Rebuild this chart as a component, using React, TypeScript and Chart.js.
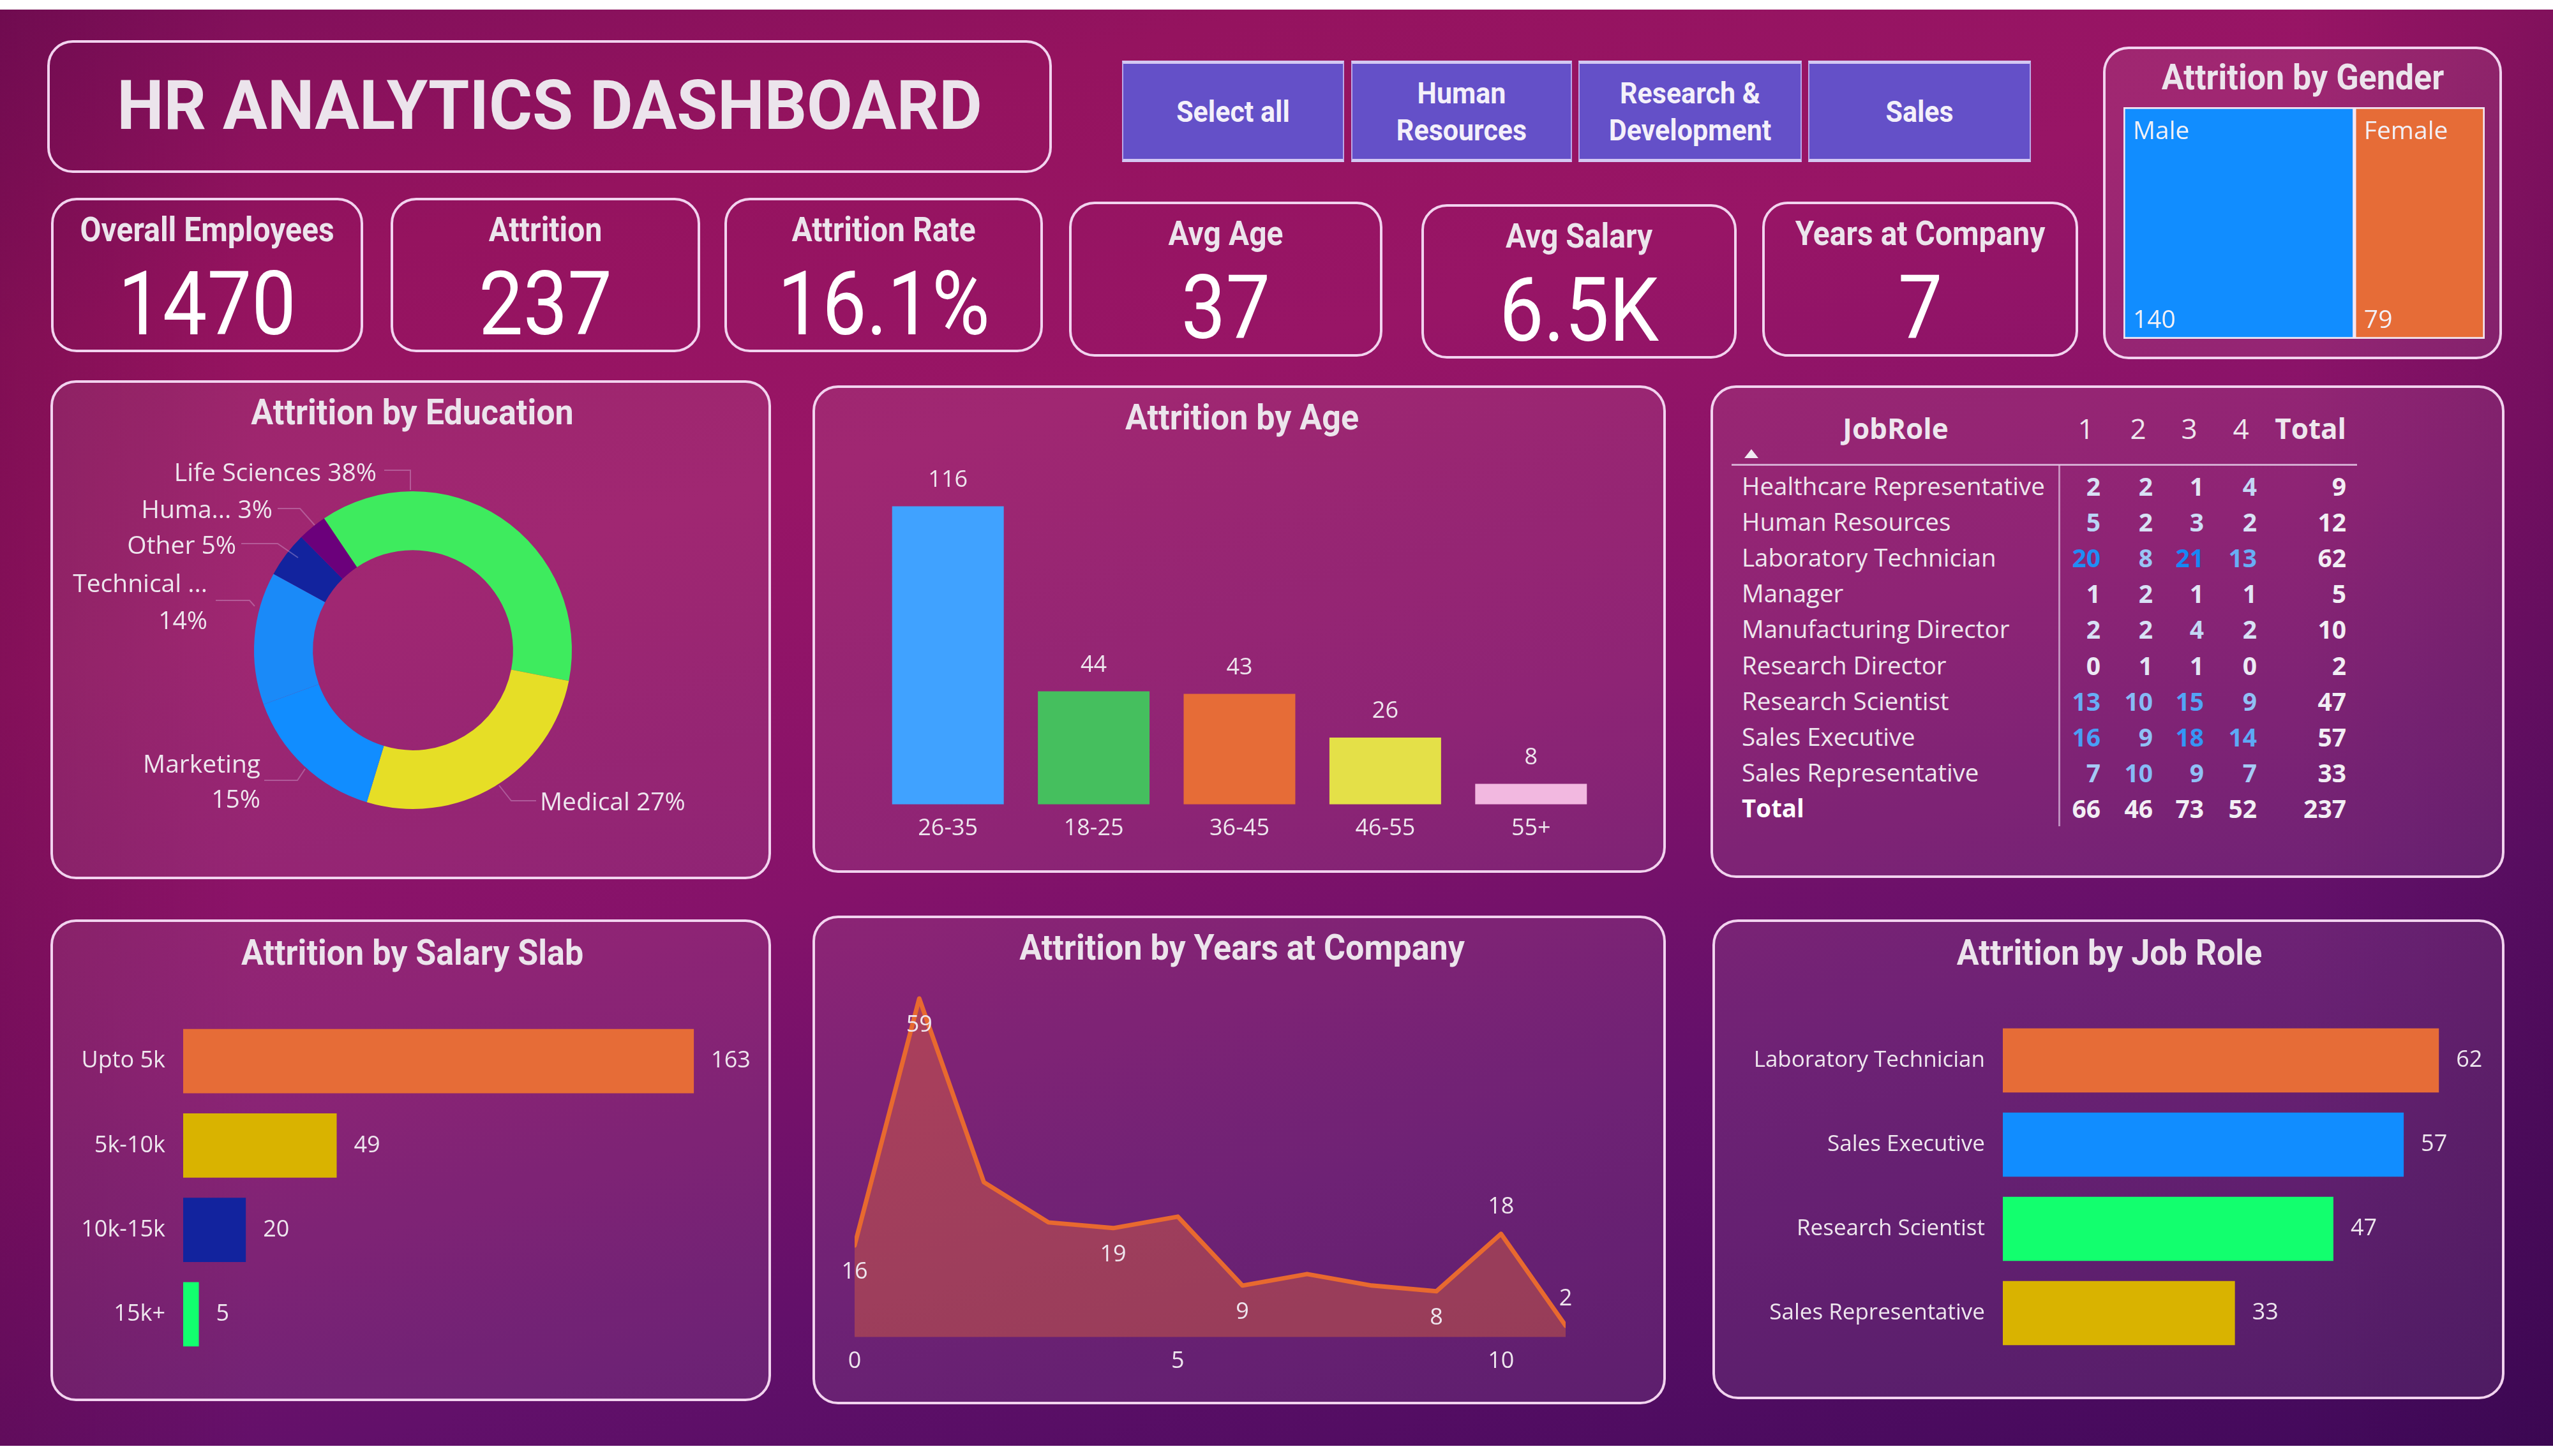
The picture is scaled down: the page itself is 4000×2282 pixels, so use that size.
import React, { useEffect, useRef } from 'react';
import { Chart, registerables } from 'chart.js';

Chart.register(...registerables);

// ---------------- DATA ----------------
const dashboardTitle = 'HR ANALYTICS DASHBOARD';
const kpiLabels = ['Overall Employees', 'Attrition', 'Attrition Rate', 'Avg Age', 'Avg Salary', 'Years at Company'];
const kpiValues = ['1470', '237', '16.1%', '37', '6.5K', '7'];
const departments = ['Select all', 'Human\nResources', 'Research &\nDevelopment', 'Sales'];

const genderLabels = ['Male', 'Female'];
const genderValues = [140, 79];

const educationFields = ['Life Sciences', 'Medical', 'Marketing', 'Technical Degree', 'Other', 'Human Resources'];
const educationValues = [89, 63, 35, 32, 11, 7];

const ageGroups = ['26-35', '18-25', '36-45', '46-55', '55+'];
const ageValues = [116, 44, 43, 26, 8];

const salarySlabs = ['Upto 5k', '5k-10k', '10k-15k', '15k+'];
const salaryValues = [163, 49, 20, 5];

const yearsAtCompany = [0, 1, 2, 3, 4, 5, 6, 7, 8, 9, 10, 11];
const yearsValues = [16, 59, 27, 20, 19, 21, 9, 11, 9, 8, 18, 2];

const jobRoles = ['Laboratory Technician', 'Sales Executive', 'Research Scientist', 'Sales Representative'];
const jobRoleValues = [62, 57, 47, 33];

const matrixRoles = [
  'Healthcare Representative', 'Human Resources', 'Laboratory Technician', 'Manager',
  'Manufacturing Director', 'Research Director', 'Research Scientist', 'Sales Executive', 'Sales Representative',
];
const matrixColumns = ['1', '2', '3', '4'];
const matrixValues = [
  [2, 2, 1, 4],
  [5, 2, 3, 2],
  [20, 8, 21, 13],
  [1, 2, 1, 1],
  [2, 2, 4, 2],
  [0, 1, 1, 0],
  [13, 10, 15, 9],
  [16, 9, 18, 14],
  [7, 10, 9, 7],
];

// ---------------- STYLE ----------------
const TXT = '#EEE6EE';
const SEG = 'Open Sans';
const DIN = 'Roboto';
const genderColors = ['#118DFF', '#E66C37'];
const educationColors = ['#3EEB5E', '#E6DE26', '#118DFF', '#1A8AF8', '#12239E', '#6B007B'];
const ageColors = ['#40A2FF', '#45BF5E', '#E66C37', '#E4E048', '#F2B8E0'];
const salaryColors = ['#E66C37', '#D9B300', '#12239E', '#12FF6E'];
const jobColors = ['#E66C37', '#118DFF', '#12FF6E', '#D9B300'];

// ---------------- PLUGINS ----------------
const valueLabels: any = {
  id: 'valueLabels',
  afterDatasetsDraw(chart: any, _a: any, opts: any) {
    if (!opts || !opts.mode) return;
    const ctx = chart.ctx;
    ctx.save();
    ctx.font = opts.font;
    ctx.fillStyle = opts.color;
    ctx.textBaseline = 'middle';
    chart.data.datasets.forEach((ds: any, di: number) => {
      const meta = chart.getDatasetMeta(di);
      meta.data.forEach((el: any, i: number) => {
        const raw = ds.data[i];
        const v = typeof raw === 'object' ? raw.y : raw;
        if (opts.mode === 'right') {
          ctx.textAlign = 'left';
          ctx.fillText(String(v), el.x + opts.gap, el.y);
        } else if (opts.mode === 'top') {
          ctx.textAlign = 'center';
          ctx.fillText(String(v), el.x, el.y - opts.gap);
        } else if (opts.mode === 'points') {
          const p = opts.place[i];
          if (!p) return;
          ctx.textAlign = 'center';
          ctx.fillText(String(v), el.x, el.y + (p === 'above' ? -opts.gap : opts.gap));
        }
      });
    });
    ctx.restore();
  },
};

const treeLabels: any = {
  id: 'treeLabels',
  afterDatasetsDraw(chart: any, _a: any, opts: any) {
    if (!opts || !opts.on) return;
    const ctx = chart.ctx;
    ctx.save();
    ctx.font = opts.font;
    ctx.fillStyle = opts.color;
    ctx.textAlign = 'left';
    ctx.textBaseline = 'middle';
    chart.data.datasets.forEach((ds: any, di: number) => {
      const el: any = chart.getDatasetMeta(di).data[0];
      const left = Math.min(el.x, el.base);
      const top = el.y - el.height / 2;
      const bottom = el.y + el.height / 2;
      ctx.fillText(ds.label, left + 15, top + 39);
      ctx.fillText(String(ds.data[0]), left + 15, bottom - 28);
    });
    ctx.restore();
  },
};

const donutLabels: any = {
  id: 'donutLabels',
  afterDatasetsDraw(chart: any, _a: any, opts: any) {
    if (!opts || !opts.layout) return;
    const arc: any = chart.getDatasetMeta(0).data[0];
    const cx = arc.x, cy = arc.y, k = arc.outerRadius / 249;
    const vals: number[] = chart.data.datasets[0].data;
    const total = vals.reduce((a, b) => a + b, 0);
    const ctx = chart.ctx;
    ctx.save();
    ctx.font = opts.font;
    ctx.fillStyle = opts.color;
    ctx.strokeStyle = opts.lineColor;
    ctx.lineWidth = 2;
    ctx.textBaseline = 'middle';
    opts.layout.forEach((L: any, i: number) => {
      const pct = Math.round((vals[i] / total) * 100) + '%';
      const name = L.short || chart.data.labels[i];
      const lines = L.split ? [name, pct] : [name + ' ' + pct];
      ctx.beginPath();
      L.path.forEach((pt: number[], j: number) => {
        const px = cx + pt[0] * k, py = cy + pt[1] * k;
        if (j === 0) ctx.moveTo(px, py); else ctx.lineTo(px, py);
      });
      ctx.stroke();
      ctx.textAlign = L.align;
      lines.forEach((t: string, j: number) => ctx.fillText(t, cx + L.tx * k, cy + L.ty[j] * k));
    });
    ctx.restore();
  },
};

// ---------------- CHART CONFIGS ----------------
const base = { responsive: false, animation: false, devicePixelRatio: 1 };
const noLegend = { legend: { display: false }, tooltip: { enabled: false } };

function ageConfig(): any {
  return {
    type: 'bar',
    data: { labels: ageGroups, datasets: [{ data: ageValues, backgroundColor: ageColors, barPercentage: 0.766, categoryPercentage: 1 }] },
    options: {
      ...base,
      plugins: { ...noLegend, valueLabels: { mode: 'top', gap: 41, font: `36px "${SEG}"`, color: TXT } },
      scales: {
        x: { grid: { display: false, drawTicks: false }, border: { display: false }, ticks: { color: TXT, font: { family: SEG, size: 36 }, padding: 16 } },
        y: { display: false, min: 0, max: 130 },
      },
    },
    plugins: [valueLabels],
  };
}

function hbarConfig(labels: string[], values: number[], colors: string[], xmax: number, axisW: number, fs: number): any {
  return {
    type: 'bar',
    data: { labels, datasets: [{ data: values, backgroundColor: colors, barPercentage: 0.76, categoryPercentage: 1 }] },
    options: {
      ...base,
      indexAxis: 'y',
      plugins: { ...noLegend, valueLabels: { mode: 'right', gap: 27, font: `36px "${SEG}"`, color: TXT } },
      scales: {
        x: { display: false, min: 0, max: xmax },
        y: {
          grid: { display: false, drawTicks: false }, border: { display: false },
          ticks: { color: TXT, font: { family: SEG, size: fs }, padding: 28 },
          afterFit: (s: any) => { s.width = axisW; s.paddingTop = 0; s.paddingBottom = 0; },
        },
      },
    },
    plugins: [valueLabels],
  };
}

function genderConfig(): any {
  const total = genderValues.reduce((a, b) => a + b, 0);
  return {
    type: 'bar',
    data: {
      labels: ['Gender'],
      datasets: genderLabels.map((g, i) => ({
        label: g, data: [genderValues[i]], backgroundColor: genderColors[i],
        borderColor: '#F3E6F3', borderWidth: 3, borderSkipped: false, barPercentage: 1, categoryPercentage: 1,
      })),
    },
    options: {
      ...base,
      indexAxis: 'y',
      plugins: { ...noLegend, treeLabels: { on: true, font: `39px "${SEG}"`, color: '#F2F0F6' } },
      scales: { x: { display: false, stacked: true, min: 0, max: total }, y: { display: false, stacked: true } },
    },
    plugins: [treeLabels],
  };
}

const eduLayout = [
  { tx: -57, ty: [-276], align: 'right', path: [[-45, -282], [-4, -282], [-4, -251]] },
  { tx: 199, ty: [240], align: 'left', path: [[135, 212], [154, 236], [193, 236]] },
  { split: true, tx: -239, ty: [181, 236], align: 'right', path: [[-233, 204], [-181, 204], [-169, 186]] },
  { short: 'Technical ...', split: true, tx: -322, ty: [-102, -44], align: 'right', path: [[-309, -78], [-256, -78], [-248, -69]] },
  { tx: -277, ty: [-162], align: 'right', path: [[-269, -167], [-212, -167], [-180, -145]] },
  { short: 'Huma...', tx: -220, ty: [-218], align: 'right', path: [[-212, -222], [-177, -222], [-154, -196]] },
];

function educationConfig(): any {
  return {
    type: 'doughnut',
    data: { labels: educationFields, datasets: [{ data: educationValues, backgroundColor: educationColors, borderWidth: 0 }] },
    options: {
      ...base,
      cutout: '63%',
      rotation: -34,
      layout: { padding: { left: 319, right: 312, top: 70, bottom: 102 } },
      plugins: { ...noLegend, donutLabels: { layout: eduLayout, font: `39px "${SEG}"`, color: TXT, lineColor: 'rgba(220,190,225,0.35)' } },
    },
    plugins: [donutLabels],
  };
}

function yearsConfig(): any {
  return {
    type: 'line',
    data: {
      datasets: [{
        data: yearsAtCompany.map((x, i) => ({ x, y: yearsValues[i] })),
        borderColor: '#E8692F', borderWidth: 7, backgroundColor: 'rgba(230,105,55,0.40)', fill: 'origin',
        pointRadius: 0, tension: 0, borderJoinStyle: 'round', borderCapStyle: 'round',
      }],
    },
    options: {
      ...base,
      layout: { padding: { left: 40, right: 27 } },
      plugins: {
        ...noLegend,
        valueLabels: {
          mode: 'points', gap: 42, font: `36px "${SEG}"`, color: TXT,
          place: ['below', 'below', null, null, 'below', null, 'below', null, null, 'below', 'above', 'above'],
        },
      },
      scales: {
        x: {
          type: 'linear', min: 0, max: 11, grid: { display: false, drawTicks: false }, border: { display: false },
          ticks: { stepSize: 5, includeBounds: false, color: TXT, font: { family: SEG, size: 36 }, padding: 16 },
        },
        y: { display: false, min: 0, max: 65 },
      },
    },
    plugins: [valueLabels],
  };
}

// ---------------- COMPONENTS ----------------
function ChartBox({ x, y, w, h, make }: { x: number; y: number; w: number; h: number; make: () => any }) {
  const ref = useRef<HTMLCanvasElement>(null);
  useEffect(() => {
    const chart = new Chart(ref.current as HTMLCanvasElement, make());
    return () => chart.destroy();
  }, []);
  return <canvas ref={ref} width={w} height={h} style={{ position: 'absolute', left: x, top: y, width: w, height: h }} />;
}

function T({ x, y, t, size, weight = 400, fam = SEG, align = 'center', color = TXT, lh, sy = 1 }: {
  x: number; y: number; t: string; size: number; weight?: number; fam?: string; align?: 'left' | 'center' | 'right'; color?: string; lh?: number; sy?: number;
}) {
  const tx = align === 'left' ? '0' : align === 'right' ? '-100%' : '-50%';
  return (
    <div style={{
      position: 'absolute', left: x, top: y, transform: `translate(${tx}, -50%) scaleY(${sy})`, fontSize: size, lineHeight: (lh || size) + 'px',
      fontFamily: fam, fontWeight: weight, color, whiteSpace: 'pre', textAlign: align,
    }}>{t}</div>
  );
}

function Panel({ x1, y1, x2, y2, fill }: { x1: number; y1: number; x2: number; y2: number; fill?: boolean }) {
  return (
    <div style={{
      position: 'absolute', left: x1, top: y1, width: x2 - x1, height: y2 - y1, boxSizing: 'border-box',
      border: '4px solid #F2D3EF', borderRadius: 40, background: fill ? 'rgba(255,255,255,0.08)' : 'transparent',
    }} />
  );
}

function matrixColor(v: number, max: number) {
  const a = [236, 234, 245], b = [22, 136, 245];
  const f = Math.min(1, v / max);
  return `rgb(${a.map((c, i) => Math.round(c + (b[i] - c) * f)).join(',')})`;
}

const kpiBoxes = [
  [80, 310, 569, 552], [612, 310, 1097, 552], [1135, 310, 1634, 552],
  [1675, 316, 2166, 559], [2227, 320, 2721, 562], [2761, 316, 3256, 559],
];
const buttonBoxes = [[1758, 95, 2106, 254], [2117, 95, 2463, 254], [2473, 95, 2823, 254], [2833, 95, 3182, 254]];

export default function App() {
  const rowY0 = 761, rowStep = 56.1;
  const colRight = [3291, 3373, 3453, 3536];
  const colHead = [3268, 3350, 3430, 3511];
  const totalRight = 3676;
  const maxCell = Math.max(...matrixValues.flat());
  const rowTotals = matrixValues.map(r => r.reduce((a, b) => a + b, 0));
  const colTotals = matrixColumns.map((_, j) => matrixValues.reduce((a, r) => a + r[j], 0));
  const grand = rowTotals.reduce((a, b) => a + b, 0);

  return (
    <div style={{ position: 'absolute', left: 0, top: 0, width: 4000, height: 2282, background: '#ffffff', overflow: 'hidden' }}>
      <div style={{
        position: 'absolute', left: 0, top: 15, width: 4000, height: 2251,
        background: 'linear-gradient(165deg, #7E0F5A 0%, #95135F 16%, #981566 32%, #85126A 52%, #62106A 72%, #40095A 100%)',
      }} />
      <div style={{
        position: 'absolute', left: 0, top: 15, width: 4000, height: 2251,
        background: 'linear-gradient(90deg, rgba(70,0,50,0.25) 0%, rgba(70,0,50,0) 10%, rgba(0,0,0,0) 90%, rgba(40,0,50,0.2) 100%)',
      }} />

      {/* Title */}
      <Panel x1={74} y1={63} x2={1648} y2={271} />
      <T x={861} y={166} t={dashboardTitle} size={104} weight={700} fam={DIN} color="#ECE4EC" sy={1.04} />

      {/* Slicer */}
      {buttonBoxes.map(([x1, y1, x2, y2], i) => (
        <div key={i} style={{
          position: 'absolute', left: x1, top: y1, width: x2 - x1, height: y2 - y1, boxSizing: 'border-box',
          background: '#6450C8', borderTop: '5px solid #D4C8F2', borderBottom: '5px solid #D4C8F2',
          borderLeft: '2px solid #B8A8E8', borderRight: '2px solid #B8A8E8',
        }} />
      ))}
      {buttonBoxes.map(([x1, y1, x2, y2], i) => (
        <T key={'b' + i} x={(x1 + x2) / 2} y={(y1 + y2) / 2} t={departments[i]} size={43} weight={700} fam={DIN} color="#F4F0FA" lh={54} align="center" sy={1.06} />
      ))}

      {/* KPI cards */}
      {kpiBoxes.map(([x1, y1, x2, y2], i) => (
        <React.Fragment key={i}>
          <Panel x1={x1} y1={y1} x2={x2} y2={y2} />
          <T x={(x1 + x2) / 2} y={y1 + 50} t={kpiLabels[i]} size={48} weight={700} fam={DIN} color="#ECE4EC" sy={1.1} />
          <T x={(x1 + x2) / 2} y={y1 + 167} t={kpiValues[i]} size={124} weight={400} fam={DIN} color="#FFFFFF" sy={1.12} />
        </React.Fragment>
      ))}

      {/* Gender */}
      <Panel x1={3295} y1={73} x2={3920} y2={563} fill />
      <T x={3608} y={122} t="Attrition by Gender" size={52} weight={700} fam={DIN} color="#ECE4EC" sy={1.05} />
      <ChartBox x={3327} y={168} w={566} h={363} make={genderConfig} />

      {/* Education */}
      <Panel x1={79} y1={596} x2={1208} y2={1378} fill />
      <T x={646} y={647} t="Attrition by Education" size={52} weight={700} fam={DIN} color="#ECE4EC" sy={1.05} />
      <ChartBox x={79} y={700} w={1129} h={670} make={educationConfig} />

      {/* Age */}
      <Panel x1={1273} y1={604} x2={2610} y2={1368} fill />
      <T x={1946} y={655} t="Attrition by Age" size={52} weight={700} fam={DIN} color="#ECE4EC" sy={1.05} />
      <ChartBox x={1371} y={737} w={1142} h={599} make={ageConfig} />

      {/* Matrix */}
      <Panel x1={2680} y1={604} x2={3924} y2={1376} fill />
      <T x={2970} y={671} t="JobRole" size={44} weight={700} />
      {matrixColumns.map((c, j) => <T key={'h' + j} x={colHead[j]} y={671} t={c} size={44} weight={400} />)}
      <T x={totalRight} y={671} t="Total" size={44} weight={700} align="right" />
      <div style={{ position: 'absolute', left: 2733, top: 704, width: 0, height: 0, borderLeft: '11px solid transparent', borderRight: '11px solid transparent', borderBottom: '14px solid #F0EAF2' }} />
      <div style={{ position: 'absolute', left: 2713, top: 727, width: 980, height: 3, background: 'rgba(235,215,240,0.75)' }} />
      <div style={{ position: 'absolute', left: 3225, top: 729, width: 3, height: 566, background: 'rgba(235,215,240,0.6)' }} />
      {matrixRoles.map((r, i) => (
        <React.Fragment key={'r' + i}>
          <T x={2729} y={rowY0 + rowStep * i} t={r} size={38.5} align="left" />
          {matrixValues[i].map((v, j) => (
            <T key={j} x={colRight[j]} y={rowY0 + rowStep * i} t={String(v)} size={39} weight={700} align="right" color={matrixColor(v, maxCell)} />
          ))}
          <T x={totalRight} y={rowY0 + rowStep * i} t={String(rowTotals[i])} size={39} weight={700} align="right" color="#F2EEF4" />
        </React.Fragment>
      ))}
      <T x={2729} y={rowY0 + rowStep * 9} t="Total" size={38.5} weight={700} align="left" color="#FFFFFF" />
      {colTotals.map((v, j) => (
        <T key={'ct' + j} x={colRight[j]} y={rowY0 + rowStep * 9} t={String(v)} size={39} weight={700} align="right" color="#F2EEF4" />
      ))}
      <T x={totalRight} y={rowY0 + rowStep * 9} t={String(grand)} size={39} weight={700} align="right" color="#F2EEF4" />

      {/* Salary */}
      <Panel x1={79} y1={1441} x2={1208} y2={2196} fill />
      <T x={646} y={1494} t="Attrition by Salary Slab" size={52} weight={700} fam={DIN} color="#ECE4EC" sy={1.05} />
      <ChartBox x={100} y={1597} w={1100} h={529} make={() => hbarConfig(salarySlabs, salaryValues, salaryColors, 186, 187, 36)} />

      {/* Years */}
      <Panel x1={1273} y1={1435} x2={2610} y2={2201} fill />
      <T x={1946} y={1486} t="Attrition by Years at Company" size={52} weight={700} fam={DIN} color="#ECE4EC" sy={1.05} />
      <ChartBox x={1299} y={1511} w={1181} h={660} make={yearsConfig} />

      {/* Job role */}
      <Panel x1={2683} y1={1441} x2={3924} y2={2193} fill />
      <T x={3305} y={1494} t="Attrition by Job Role" size={52} weight={700} fam={DIN} color="#ECE4EC" sy={1.05} />
      <ChartBox x={2700} y={1596} w={1200} h={528} make={() => hbarConfig(jobRoles, jobRoleValues, jobColors, 69.15, 438, 35)} />
    </div>
  );
}
